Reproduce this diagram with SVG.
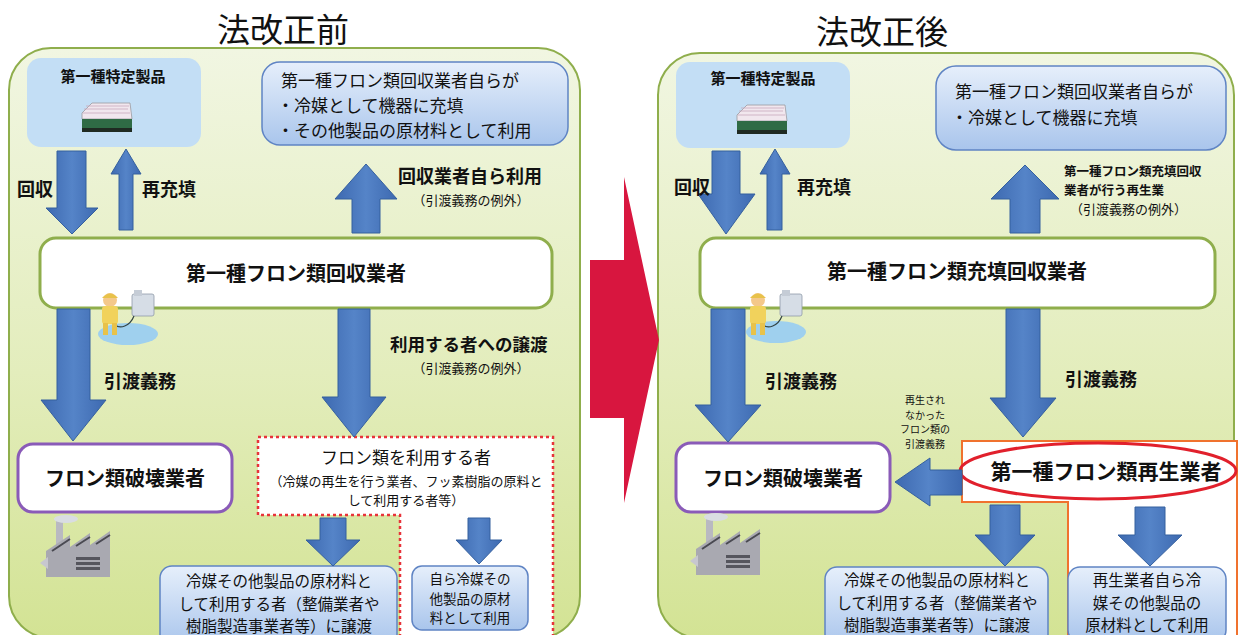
<svg xmlns="http://www.w3.org/2000/svg" width="1251" height="635" viewBox="0 0 1251 635">
  <defs>
    <linearGradient id="panelFill" x1="0" y1="0" x2="0" y2="1">
      <stop offset="0" stop-color="#f1f6e2"/>
      <stop offset="0.55" stop-color="#e3edbc"/>
      <stop offset="1" stop-color="#d3e394"/>
    </linearGradient>
    <linearGradient id="blueBox" x1="0" y1="0" x2="0" y2="1">
      <stop offset="0" stop-color="#e6effb"/>
      <stop offset="1" stop-color="#a9c5ec"/>
    </linearGradient>
    <linearGradient id="arrowFill" x1="0" y1="0" x2="1" y2="0">
      <stop offset="0" stop-color="#3d69b0"/>
      <stop offset="0.5" stop-color="#5584c8"/>
      <stop offset="1" stop-color="#3d69b0"/>
    </linearGradient>
  </defs>
  <style>
    text { font-family: "Noto Sans CJK JP", "Noto Sans", sans-serif; fill: #111; }
    .title { font-size: 33px; font-weight: 400; text-anchor: middle; }
    .panel { fill: url(#panelFill); stroke: #8fae4c; stroke-width: 2; }
    .spec { fill: #c3def5; }
    .bluebox { fill: url(#blueBox); stroke: #5f84c4; stroke-width: 1.5; }
    .mainbox { fill: #ffffff; stroke: #8fae4c; stroke-width: 3; }
    .destroy { fill: #ffffff; stroke: #8a5bb8; stroke-width: 3; }
    .arr { fill: url(#arrowFill); stroke: #35609e; stroke-width: 1; }
    .b { font-weight: 700; }
    .c { text-anchor: middle; }
    .lbl { font-size: 18px; font-weight: 700; }
    .note { font-size: 13px; }
    .box { font-size: 15.5px; }
  </style>

  <!-- headings -->
  <text class="title" x="283" y="42">法改正前</text>
  <text class="title" x="882" y="44">法改正後</text>

  <!-- left framework -->
  <g id="panel-before">
    <rect class="panel" x="9" y="48" width="571" height="590" rx="42"/>
  </g>
  <!-- right framework -->
  <g id="panel-after">
    <rect class="panel" x="658" y="53" width="576" height="585" rx="42"/>
  </g>

  <!-- big transition arrow -->
  <g id="transition-arrow">
    <path d="M590,260 H624 V177 L659,340 L624,503 V418 H590 Z" fill="#d8163f"/>
  </g>

  <!-- ===== before ===== -->
  <g id="before-product">
    <rect class="spec" x="27" y="58" width="174" height="89" rx="14"/>
    <text class="c b" x="113" y="82" font-size="15">第一種特定製品</text>
    <!-- display case -->
    <g transform="translate(80,101)">
      <path d="M2,12 L12,2 H50 L52,18 H2 Z" fill="#f1e7ee" stroke="#9a9aa0" stroke-width="0.8"/>
      <path d="M4,8 H48 M6,5 H49 M3,12 H50" stroke="#c9a9bb" stroke-width="0.8"/>
      <rect x="2" y="18" width="50" height="9" fill="#2f6b45"/>
      <rect x="2" y="27" width="50" height="4" fill="#1f2a22"/>
    </g>
  </g>

  <g id="before-self-use">
    <rect class="bluebox" x="262" y="62" width="306" height="83" rx="18"/>
    <text x="281" y="87" font-size="17">第一種フロン類回収業者自らが</text>
    <text x="277" y="112" font-size="17">・冷媒として機器に充填</text>
    <text x="277" y="137" font-size="17">・その他製品の原材料として利用</text>
  </g>

  <g id="before-collector">
    <rect class="mainbox" x="40" y="238" width="512" height="70" rx="16"/>
    <text class="c b" x="296" y="281" font-size="20">第一種フロン類回収業者</text>
    <!-- worker with recovery unit -->
    <g transform="translate(96,290)">
      <ellipse cx="32" cy="44" rx="30" ry="11" fill="#9fd0ee"/>
      <rect x="36" y="4" width="22" height="22" rx="2" fill="#d6dde6" stroke="#8f9aa8" stroke-width="0.8"/>
      <rect x="38" y="0" width="8" height="6" fill="#c5ccd6"/>
      <path d="M38,26 C34,36 24,40 18,34" fill="none" stroke="#344" stroke-width="1.2"/>
      <circle cx="14" cy="10" r="7" fill="#f4c88a"/>
      <path d="M6,8 Q14,-1 22,8 Z" fill="#e8c24a"/>
      <rect x="6" y="16" width="16" height="18" rx="3" fill="#f1d25c"/>
      <rect x="7" y="33" width="5" height="12" fill="#e8c24a"/>
      <rect x="16" y="33" width="5" height="12" fill="#e8c24a"/>
    </g>
  </g>

  <g id="before-destroyer">
    <rect class="destroy" x="18" y="444" width="214" height="68" rx="15"/>
    <text class="c b" x="125" y="486" font-size="20">フロン類破壊業者</text>
    <!-- factory -->
    <g transform="translate(40,513)" fill="#a9a9b1">
      <rect x="16" y="6" width="7" height="30" fill="#b9b9c1"/>
      <ellipse cx="26" cy="6" rx="12" ry="4" fill="#d9dde2"/>
      <path d="M6,54 V38 L30,22 V34 L50,20 V32 L70,18 V64 H6 Z"/>
      <path d="M12,38 L30,26 M36,33 L50,24 M56,31 L70,22" stroke="#4a4a52" stroke-width="2"/>
      <path d="M0,50 L8,44 V56 Z" fill="#c7c7cf"/>
      <rect x="36" y="44" width="24" height="3" fill="#55555d"/>
      <rect x="36" y="49" width="24" height="3" fill="#55555d"/>
      <rect x="36" y="54" width="24" height="3" fill="#55555d"/>
    </g>
  </g>

  <g id="before-user">
    <path d="M258,437 H553 V640 H400 V515 H258 Z" fill="#ffffff" stroke="#e8333a" stroke-width="2.5" stroke-dasharray="3,3"/>
    <text class="c" x="406" y="464" font-size="17">フロン類を利用する者</text>
    <text class="c" x="406" y="485.5" font-size="13">（冷媒の再生を行う業者、フッ素樹脂の原料と</text>
    <text class="c" x="406" y="504.5" font-size="13">して利用する者等）</text>
  </g>

  <g id="before-transfer">
    <rect class="bluebox" x="160" y="566" width="237" height="80" rx="12"/>
    <text class="c box" x="279" y="587">冷媒その他製品の原材料と</text>
    <text class="c box" x="279" y="609.5">して利用する者（整備業者や</text>
    <text class="c box" x="279" y="632">樹脂製造事業者等）に譲渡</text>
  </g>

  <g id="before-own-use">
    <rect class="bluebox" x="412" y="566" width="116" height="64" rx="10"/>
    <text class="c" x="470" y="584" font-size="13.5">自ら冷媒その</text>
    <text class="c" x="470" y="603.5" font-size="13.5">他製品の原材</text>
    <text class="c" x="470" y="623" font-size="13.5">料として利用</text>
  </g>

  <!-- ===== after ===== -->
  <g id="after-product">
    <rect class="spec" x="676" y="62" width="174" height="86" rx="14"/>
    <text class="c b" x="763" y="84" font-size="15">第一種特定製品</text>
    <g transform="translate(735,103)">
      <path d="M2,12 L12,2 H50 L52,18 H2 Z" fill="#f1e7ee" stroke="#9a9aa0" stroke-width="0.8"/>
      <path d="M4,8 H48 M6,5 H49 M3,12 H50" stroke="#c9a9bb" stroke-width="0.8"/>
      <rect x="2" y="18" width="50" height="9" fill="#2f6b45"/>
      <rect x="2" y="27" width="50" height="4" fill="#1f2a22"/>
    </g>
  </g>

  <g id="after-self-use">
    <rect class="bluebox" x="936" y="66" width="290" height="84" rx="20"/>
    <text x="955" y="98" font-size="17">第一種フロン類回収業者自らが</text>
    <text x="951" y="124" font-size="17">・冷媒として機器に充填</text>
  </g>

  <g id="after-collector">
    <rect class="mainbox" x="700" y="238" width="515" height="70" rx="16"/>
    <text class="c b" x="957" y="279" font-size="20">第一種フロン類充填回収業者</text>
    <g transform="translate(744,290)">
      <ellipse cx="32" cy="42" rx="30" ry="11" fill="#9fd0ee"/>
      <rect x="36" y="4" width="22" height="22" rx="2" fill="#d6dde6" stroke="#8f9aa8" stroke-width="0.8"/>
      <rect x="38" y="0" width="8" height="6" fill="#c5ccd6"/>
      <path d="M38,26 C34,36 24,40 18,34" fill="none" stroke="#344" stroke-width="1.2"/>
      <circle cx="14" cy="10" r="7" fill="#f4c88a"/>
      <path d="M6,8 Q14,-1 22,8 Z" fill="#e8c24a"/>
      <rect x="6" y="16" width="16" height="18" rx="3" fill="#f1d25c"/>
      <rect x="7" y="33" width="5" height="12" fill="#e8c24a"/>
      <rect x="16" y="33" width="5" height="12" fill="#e8c24a"/>
    </g>
  </g>

  <g id="after-destroyer">
    <rect class="destroy" x="676" y="443" width="214" height="69" rx="15"/>
    <text class="c b" x="783" y="486" font-size="20">フロン類破壊業者</text>
    <g transform="translate(690,511)" fill="#a9a9b1">
      <rect x="16" y="6" width="7" height="30" fill="#b9b9c1"/>
      <ellipse cx="26" cy="6" rx="12" ry="4" fill="#d9dde2"/>
      <path d="M6,54 V38 L30,22 V34 L50,20 V32 L70,18 V64 H6 Z"/>
      <path d="M12,38 L30,26 M36,33 L50,24 M56,31 L70,22" stroke="#4a4a52" stroke-width="2"/>
      <path d="M0,50 L8,44 V56 Z" fill="#c7c7cf"/>
      <rect x="36" y="44" width="24" height="3" fill="#55555d"/>
      <rect x="36" y="49" width="24" height="3" fill="#55555d"/>
      <rect x="36" y="54" width="24" height="3" fill="#55555d"/>
    </g>
  </g>

  <g id="after-recycler">
    <path d="M962,441 H1237 V640 H1068 V502 H962 Z" fill="#ffffff" stroke="#f0722e" stroke-width="2"/>
    <ellipse cx="1098" cy="471" rx="138" ry="28" fill="none" stroke="#e1202c" stroke-width="3"/>
    <text class="c b" x="1106" y="479" font-size="21">第一種フロン類再生業者</text>
  </g>

  <g id="after-transfer">
    <rect class="bluebox" x="825" y="567" width="223" height="80" rx="12"/>
    <text class="c box" x="937" y="586">冷媒その他製品の原材料と</text>
    <text class="c box" x="937" y="608.5">して利用する者（整備業者や</text>
    <text class="c box" x="937" y="631">樹脂製造事業者等）に譲渡</text>
  </g>

  <g id="after-own-use">
    <rect class="bluebox" x="1068" y="567" width="158" height="75" rx="12"/>
    <text class="c box" x="1147" y="586">再生業者自ら冷</text>
    <text class="c box" x="1147" y="608.5">媒その他製品の</text>
    <text class="c box" x="1147" y="631">原材料として利用</text>
  </g>

  <!-- ===== connectors ===== -->
  <g id="connectors">
    <!-- before -->
    <path class="arr" d="M57,151 H86 V208 H98 L72,234 L46,208 H57 Z"/>
    <path class="arr" d="M119,230 V174 H111 L126,149 L141,174 H133 V230 Z"/>
    <path class="arr" d="M352,233 V199 H335 L366,164 L397,199 H380 V233 Z"/>
    <path class="arr" d="M57,309 H90 V400 H106 L73,441 L41,400 H57 Z"/>
    <path class="arr" d="M338,309 H370 V397 H386 L354,437 L322,397 H338 Z"/>
    <path class="arr" d="M320,518 H346 V540 H360 L333,566 L306,540 H320 Z"/>
    <path class="arr" d="M468,518 H490 V540 H502 L479,564 L456,540 H468 Z"/>

    <!-- after -->
    <path class="arr" d="M712,151 H740 V194 H755 L726,234 L698,194 H712 Z"/>
    <path class="arr" d="M767,230 V174 H760 L775,149 L790,174 H782 V230 Z"/>
    <path class="arr" d="M1010,233 V199 H991 L1025,165 L1059,199 H1040 V233 Z"/>
    <path class="arr" d="M711,309 H745 V405 H761 L728,442 L695,405 H711 Z"/>
    <path class="arr" d="M1006,309 H1040 V398 H1056 L1023,437 L990,398 H1006 Z"/>
    <path class="arr" d="M962,470 V495 H930 V506 L895,482 L930,458 V470 Z"/>
    <path class="arr" d="M990,505 H1020 V535 H1035 L1005,566 L975,535 H990 Z"/>
    <path class="arr" d="M1135,507 H1165 V535 H1182 L1150,566 L1118,535 H1135 Z"/>

    <!-- connector labels, before -->
    <text class="lbl" x="17" y="196">回収</text>
    <text class="lbl" x="142" y="196">再充填</text>
    <text class="lbl" x="398" y="183">回収業者自ら利用</text>
    <text class="note c" x="471" y="204.5">（引渡義務の例外）</text>
    <text class="lbl" x="104" y="388">引渡義務</text>
    <text class="b" x="390" y="351" font-size="17.5">利用する者への譲渡</text>
    <text class="note c" x="471" y="372.5">（引渡義務の例外）</text>

    <!-- connector labels, after -->
    <text class="lbl" x="674" y="194">回収</text>
    <text class="lbl" x="797" y="194">再充填</text>
    <text class="b" x="1064" y="176" font-size="12.5">第一種フロン類充填回収</text>
    <text class="b" x="1064" y="194.5" font-size="12.5">業者が行う再生業</text>
    <text class="note" x="1070" y="213.5">（引渡義務の例外）</text>
    <text class="lbl" x="765" y="388">引渡義務</text>
    <text class="lbl" x="1065" y="386">引渡義務</text>
    <text class="c" font-size="10"><tspan x="925" y="404">再生され</tspan><tspan x="925" y="418.5">なかった</tspan><tspan x="925" y="433">フロン類の</tspan><tspan x="925" y="447.5">引渡義務</tspan></text>
  </g>
</svg>
